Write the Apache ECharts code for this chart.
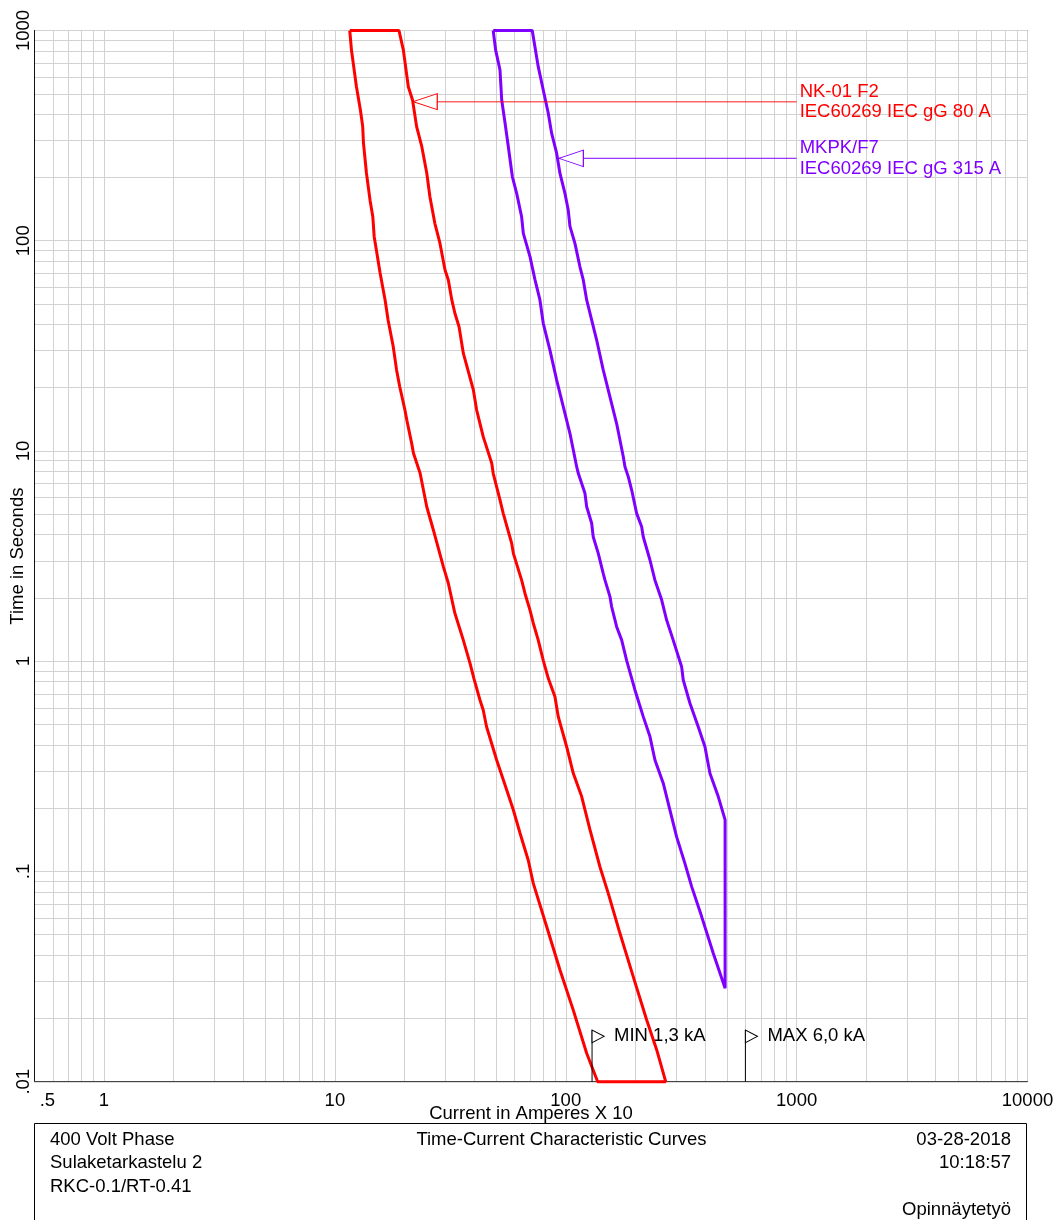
<!DOCTYPE html>
<html>
<head>
<meta charset="utf-8">
<title>Time-Current Characteristic Curves</title>
<script src="https://cdn.jsdelivr.net/npm/echarts@6.0.0/dist/echarts.min.js"></script>
<style>
html, body { margin: 0; padding: 0; background: #fff; }
#main { width: 1060px; height: 1220px; }
</style>
</head>
<body>
<div id="main"></div>
<script>
// axis labels (current in A x 10, time in s)
var xLabels = [0.5, 1, 10, 100, 1000, 10000];
var yLabels = [0.01, 0.1, 1, 10, 100, 1000];

// NK-01 F2, gG 80 A : [current, time]
var nk01Min = [[11.6,1000],[11.8,807],[12.4,540],[12.9,419],[13.2,349],[13.3,291],[13.7,210],[14.2,156],[14.6,130],[14.8,104.5],[15.2,87.4],[15.7,70.2],[16.5,52.3],[17.0,42.0],[17.9,31.3],[18.5,24.3],[19.1,20.2],[20.1,15.7],[20.5,14.0],[21.5,10.9],[21.9,9.75],[23.4,7.83],[25.0,5.43],[26.7,4.21],[29.5,2.82],[31.0,2.35],[33.1,1.69],[36.0,1.26],[38.5,0.977],[40.0,0.829],[42.5,0.654],[43.9,0.586],[45.4,0.488],[50.2,0.339],[55.5,0.244],[59.3,0.196],[63.4,0.152],[68.8,0.113],[72.3,0.088],[82.7,0.0546],[94.4,0.034],[107.8,0.0219],[123.2,0.01365],[137.5,0.01]];
var nk01Max = [[18.95,1000],[19.8,807],[20.8,540],[21.7,467],[22.6,349],[23.8,280],[25.0,210],[25.8,162],[27.1,121],[28.5,97.6],[30.0,72.6],[31.0,65.1],[32.1,52.3],[33.1,45.2],[34.5,39.0],[36.0,29.2],[39.8,19.5],[41.1,15.7],[43.9,11.7],[47.8,8.74],[48.5,7.83],[51.9,5.85],[53.6,5.05],[58.3,3.64],[59.3,3.26],[64.4,2.43],[66.6,2.10],[70.0,1.75],[72.3,1.52],[76.0,1.26],[79.9,1.01],[84.0,0.829],[89.8,0.678],[92.8,0.545],[100.9,0.392],[107.8,0.293],[117.2,0.227],[127.3,0.158],[140.7,0.105],[152.8,0.0787],[171.7,0.0508],[196,0.0316],[224,0.0197],[247.6,0.0142],[271,0.01]];

// MKPK/F7, gG 315 A
var mkpkMin = [[48.5,1000],[49.7,807],[51.9,649],[52.8,467],[54.6,362],[56.4,280],[58.7,202],[61.3,168],[64.4,130],[65.5,108.5],[70.0,84.0],[73.6,65.1],[77.3,52.3],[79.9,40.5],[85.4,30.2],[91.3,21.8],[97.6,16.2],[104.3,12.1],[111.5,8.42],[113.3,7.83],[121.1,6.29],[123.2,5.43],[129.5,4.53],[131.5,3.91],[138.3,3.26],[145.3,2.62],[147.9,2.43],[155.4,2.03],[158,1.82],[166.1,1.46],[174.7,1.26],[183.5,1.01],[193,0.829],[199.4,0.730],[216.6,0.545],[231.6,0.438],[243.4,0.339],[264.4,0.263],[282.7,0.196],[302.2,0.146],[328.4,0.109],[351.1,0.0847],[387.8,0.061],[435.4,0.0408],[490,0.0278]];
var mkpkMax = [[71.6,1000],[76.0,673],[79.9,521],[84.0,404],[86.9,324],[91.3,261],[94.4,209],[99.2,168],[102.5,140],[104.3,117],[109.6,97.2],[115.2,75.2],[119.1,65.1],[123.2,52.3],[136.1,33.7],[145.3,24.3],[155.4,18.1],[166.1,13.5],[177.5,9.39],[180.5,8.42],[186.5,7.55],[193,6.52],[202.8,5.05],[213.2,4.36],[216.6,3.91],[231.6,3.03],[243.4,2.43],[260.2,1.96],[273.5,1.57],[292,1.26],[317.6,0.942],[322.8,0.814],[345.1,0.631],[374.8,0.488],[400.8,0.392],[421.2,0.293],[457.6,0.227],[490,0.176]];

// label arrows: tip on curve -> end
var nk01Arrow = [[21.85,458.5],[1000,458.5]];
var mkpkArrow = [[93.4,246.7],[1000,246.7]];
var nk01Text = 'NK-01 F2\nIEC60269 IEC gG 80 A';
var mkpkText = 'MKPK/F7\nIEC60269 IEC gG 315 A';

// fault currents (A x 10)
var faultCurrents = [130, 600];
var faultTexts = ['MIN 1,3 kA', 'MAX 6,0 kA'];
var faultTop = 0.0176;

// title block
var boxLeft = ['400 Volt Phase', 'Sulaketarkastelu 2', 'RKC-0.1/RT-0.41'];
var boxCenter = 'Time-Current Characteristic Curves';
var boxRight = ['03-28-2018', '10:18:57', '', 'Opinnäytetyö'];

var FONT = "'Liberation Sans', Arial, sans-serif";
var RED = '#ff0000', PURPLE = '#8000ff';

// log grid lines 1..9 x 10^n
function gridValues(lo, hi){
	var out = [];
	for(var e = -3; e <= 4; e++){
		for(var k = 1; k <= 9; k++){
			var v = +(k * Math.pow(10, e)).toPrecision(6);
			if(v >= lo && v <= hi) out.push(v);
		}
	}
	return out;
}
function closed(a, b){
	return a.concat(b.slice().reverse(), [a[0]]);
}
function fmt(v){
	v = +(+v).toPrecision(6);
	if(v === 0.5) return ' .5';
	return String(v).replace(/^0\./, '.');
}

var graphics = [{
	type: 'rect',
	shape: { x: 34.5, y: 1123.5, width: 992, height: 200 },
	style: { fill: 'none', stroke: '#000', lineWidth: 1 }
}, {
	type: 'text', x: 561.5, y: 1140,
	style: { text: boxCenter, font: '18.5px ' + FONT, fill: '#000', align: 'center', verticalAlign: 'middle' }
}];
for(var i = 0; i < boxLeft.length; i++){
	graphics.push({
		type: 'text', x: 50, y: 1140 + i * 23.3,
		style: { text: boxLeft[i], font: '18.5px ' + FONT, fill: '#000', align: 'left', verticalAlign: 'middle' }
	});
}
for(var i = 0; i < boxRight.length; i++){
	graphics.push({
		type: 'text', x: 1011, y: 1140 + i * 23.3,
		style: { text: boxRight[i], font: '18.5px ' + FONT, fill: '#000', align: 'right', verticalAlign: 'middle' }
	});
}

var series = [{
	type: 'line', name: 'NK-01 F2', data: closed(nk01Min, nk01Max),
	symbol: 'none', clip: false, z: 3,
	lineStyle: { color: RED, width: 3 }
}, {
	type: 'line', name: 'MKPK/F7', data: closed(mkpkMin, mkpkMax),
	symbol: 'none', clip: false, z: 3,
	lineStyle: { color: PURPLE, width: 3 }
}, {
	type: 'line', data: nk01Arrow, symbol: 'none', z: 4,
	lineStyle: { color: 'rgba(255,0,0,0.6)', width: 1.5 }
}, {
	type: 'line', data: mkpkArrow, symbol: 'none', z: 4,
	lineStyle: { color: PURPLE, width: 1 }
}, {
	type: 'scatter', symbol: 'triangle', symbolRotate: 90, z: 5,
	itemStyle: { color: '#fff', borderWidth: 1, opacity: 1 },
	data: [
		{ value: nk01Arrow[0], symbolSize: [16, 24], symbolOffset: [12, 0], itemStyle: { borderColor: RED } },
		{ value: mkpkArrow[0], symbolSize: [16.5, 24.5], symbolOffset: [12.2, 0], itemStyle: { borderColor: PURPLE } }
	]
}, {
	type: 'scatter', symbolSize: 1, z: 5,
	itemStyle: { color: 'transparent', opacity: 1 },
	label: { show: true, position: 'right', distance: 2.5, formatter: '{b}', fontSize: 18.5, fontFamily: FONT, lineHeight: 20.5, align: 'left', verticalAlign: 'middle', opacity: 1 },
	data: [
		{ name: nk01Text, value: nk01Arrow[1], label: { color: RED } },
		{ name: mkpkText, value: mkpkArrow[1], label: { color: PURPLE } }
	]
}];

faultCurrents.forEach(function(c, k){
	series.push({
		type: 'line', data: [[c, 0.01], [c, faultTop]], symbol: 'none', z: 4,
		lineStyle: { color: '#000', width: 1 }
	});
	series.push({
		type: 'scatter', symbol: 'triangle', symbolRotate: -90, symbolSize: [12.5, 12], symbolOffset: [6, 6.25], z: 5,
		itemStyle: { color: '#fff', borderColor: '#000', borderWidth: 1, opacity: 1 },
		data: [[c, faultTop]]
	});
	// text sits under the fuse curves
	series.push({
		type: 'scatter', symbolSize: 1, z: 2,
		itemStyle: { color: 'transparent', opacity: 1 },
		label: { show: true, position: 'right', distance: 21.5, offset: [0, 6], formatter: '{b}', fontSize: 18.5, fontFamily: FONT, color: '#000', align: 'left', verticalAlign: 'middle', opacity: 1 },
		data: [{ name: faultTexts[k], value: [c, faultTop] }]
	});
});

var chart = echarts.init(document.getElementById('main'));
chart.setOption({
	animation: false,
	backgroundColor: '#fff',
	grid: {
		left: 34.5, top: 30.5, width: 993, height: 1051.2,
		show: true, borderColor: '#444', borderWidth: 1,
		containLabel: false, outerBoundsMode: 'none'
	},
	xAxis: {
		type: 'log', logBase: 10, min: 0.5, max: 10000,
		name: 'Current in Amperes X 10', nameLocation: 'middle', nameGap: 23, nameMoveOverlap: false,
		nameTextStyle: { fontSize: 18.5, fontFamily: FONT, color: '#000' },
		axisLine: { show: true, onZero: false, lineStyle: { color: '#444', width: 1 } },
		axisTick: { show: false, customValues: gridValues(0.5, 10000) },
		splitLine: { show: true, lineStyle: { color: '#d2d2d2', width: 1 } },
		minorSplitLine: { show: false },
		axisLabel: {
			customValues: xLabels, formatter: fmt, margin: 9.5, alignMinLabel: 'left',
			fontSize: 18.5, fontFamily: FONT, color: '#000'
		}
	},
	yAxis: {
		type: 'log', logBase: 10, min: 0.01, max: 1000,
		name: 'Time in Seconds', nameLocation: 'middle', nameGap: 7, nameMoveOverlap: false,
		nameTextStyle: { fontSize: 18.5, fontFamily: FONT, color: '#000' },
		axisLine: { show: true, onZero: false, lineStyle: { color: '#111', width: 1 } },
		axisTick: { show: false, customValues: gridValues(0.01, 1000) },
		splitLine: { show: true, lineStyle: { color: '#d2d2d2', width: 1 } },
		axisLabel: {
			customValues: yLabels, formatter: fmt, margin: 1.5, rotate: 90,
			fontSize: 18.5, fontFamily: FONT, color: '#000'
		}
	},
	graphic: graphics,
	series: series
});
</script>
</body>
</html>
